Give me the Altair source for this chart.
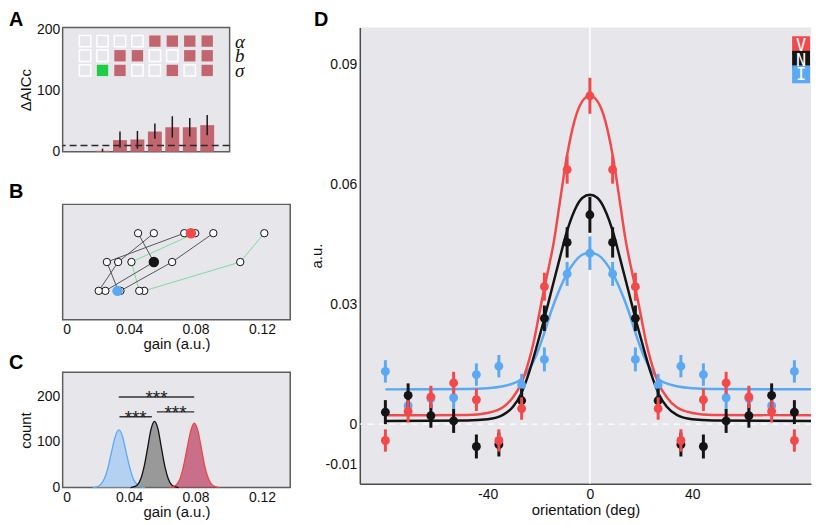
import altair as alt
import pandas as pd

FONT = "Liberation Sans"
BG = "#e7e7eb"
FRAME = "#5e5e5e"
RED = "#f24a4a"
BLACK = "#141414"
BLUE = "#5aa9f2"
BAR = "#c1666e"
GREEN = "#1fcc45"
LGREEN = "#7fd99c"
GRAYLINE = "#555555"

# ---------------- Panel A data ----------------
a_models = [1, 2, 3, 4, 5, 6, 7, 8]
a_dAICc = [0, 1.5, 19, 20, 33, 40, 40, 43.5]
a_err_lo = [0, 0, 7, 5, 21, 23, 25, 27]
a_err_hi = [0, 5, 33, 34, 46, 58, 55, 60]
a_threshold = [10]
a_params = ["α", "b", "σ"]
a_param_y = [181, 157, 133]
a_row_alpha = ["off", "off", "off", "off", "on", "on", "on", "on"]
a_row_b = ["off", "off", "on", "on", "off", "off", "on", "on"]
a_row_sigma = ["off", "best", "on", "off", "off", "on", "off", "on"]

# ---------------- Panel B data ----------------
b_subjects = ["s1", "s2", "s3", "s4", "s5", "s6"]
b_group = ["green", "green", "gray", "gray", "gray", "gray"]
b_gain_I = [0.0491, 0.0461, 0.0348, 0.0257, 0.0217, 0.0335]
b_gain_N = [0.1069, 0.0414, 0.0659, 0.0549, 0.0334, 0.0266]
b_gain_V = [0.1214, 0.0798, 0.0907, 0.0454, 0.0549, 0.0732]
b_conds = ["I", "N", "V"]
b_levels = [1, 2, 3]
b_mean = [0.0330, 0.0549, 0.0772]

# ---------------- Panel C data ----------------
c_x_I = [0.0181, 0.0203, 0.0226, 0.0248, 0.0271, 0.0293, 0.0316, 0.0338,
         0.0361, 0.0383, 0.0406, 0.0428, 0.0451, 0.0473, 0.0496]
c_y_I = [0, 1, 6, 17, 41, 76, 111, 126, 111, 76, 41, 17, 6, 1, 0]
c_x_N = [0.0409, 0.0430, 0.0450, 0.0471, 0.0491, 0.0512, 0.0532, 0.0553,
         0.0574, 0.0594, 0.0615, 0.0635, 0.0656, 0.0676, 0.0697]
c_y_N = [0, 2, 6, 20, 47, 88, 128, 145, 128, 88, 47, 20, 6, 2, 0]
c_x_V = [0.0641, 0.0663, 0.0684, 0.0706, 0.0727, 0.0749, 0.0771, 0.0792,
         0.0814, 0.0835, 0.0856, 0.0878, 0.0900, 0.0921, 0.0943]
c_y_V = [0, 2, 6, 19, 46, 86, 124, 141, 124, 86, 46, 19, 6, 2, 0]
c_sig_x1 = [0.0338, 0.0342, 0.0567]
c_sig_x2 = [0.0792, 0.0537, 0.0792]
c_sig_y = [198, 155, 165.6]
c_sig_text = ["***", "***", "***"]

# ---------------- Panel D data ----------------
d_orient = [-80, -71.1, -62.2, -53.3, -44.4, -35.6, -26.7, -17.8, -8.9, 0,
            8.9, 17.8, 26.7, 35.6, 44.4, 53.3, 62.2, 71.1, 80]
d_V = [-0.0041, 0.0032, 0.0068, 0.0103, 0.0061, -0.0041, 0.0039, 0.0344, 0.0637, 0.0822,
       0.0637, 0.0344, 0.0039, -0.0041, 0.0061, 0.0103, 0.0068, 0.0032, -0.0041]
d_V_err = [0.0028, 0.0028, 0.0028, 0.0028, 0.0028, 0.0028, 0.0028, 0.0035, 0.0035, 0.0045,
           0.0035, 0.0035, 0.0028, 0.0028, 0.0028, 0.0028, 0.0028, 0.0028, 0.0028]
d_N = [0.0030, 0.0072, 0.0021, 0.0008, -0.0056, -0.0051, 0.0059, 0.0265, 0.0455, 0.0524,
       0.0455, 0.0265, 0.0059, -0.0051, -0.0056, 0.0008, 0.0021, 0.0072, 0.0030]
d_N_err = [0.0030, 0.0030, 0.0030, 0.0030, 0.0030, 0.0030, 0.0030, 0.0032, 0.0038, 0.0045,
           0.0038, 0.0032, 0.0030, 0.0030, 0.0030, 0.0030, 0.0030, 0.0030, 0.0030]
d_I = [0.0132, 0.0046, 0.0064, 0.0066, 0.0124, 0.0145, 0.0098, 0.0162, 0.0376, 0.0428,
       0.0376, 0.0162, 0.0098, 0.0145, 0.0124, 0.0066, 0.0064, 0.0046, 0.0132]
d_I_err = [0.0028, 0.0028, 0.0028, 0.0028, 0.0028, 0.0028, 0.0028, 0.0030, 0.0030, 0.0042,
           0.0030, 0.0030, 0.0028, 0.0028, 0.0028, 0.0028, 0.0028, 0.0028, 0.0028]
d_fit_x_V = [-80, -48, -40, -34, -30, -27, -24, -22, -20, -18, -16, -14, -12, -9, -6, -3, 0,
             3, 6, 9, 12, 14, 16, 18, 20, 22, 24, 27, 30, 34, 40, 48, 88]
d_fit_V = [0.0022, 0.0023, 0.0028, 0.0042, 0.0068, 0.0100, 0.0155, 0.0205, 0.0270, 0.0335,
           0.0395, 0.0460, 0.0545, 0.0670, 0.0760, 0.0808, 0.0822,
           0.0808, 0.0760, 0.0670, 0.0545, 0.0460, 0.0395, 0.0335, 0.0270, 0.0205,
           0.0155, 0.0100, 0.0068, 0.0042, 0.0028, 0.0023, 0.0022]
d_fit_x_N = [-80, -48, -40, -34, -30, -27, -24, -21, -18, -15, -12, -9, -6, -3, 0,
             3, 6, 9, 12, 15, 18, 21, 24, 27, 30, 34, 40, 48, 88]
d_fit_N = [0.0008, 0.0009, 0.0012, 0.0023, 0.0044, 0.0075, 0.0125, 0.0190, 0.0260, 0.0335,
           0.0410, 0.0482, 0.0535, 0.0566, 0.0574,
           0.0566, 0.0535, 0.0482, 0.0410, 0.0335, 0.0260, 0.0190, 0.0125, 0.0075, 0.0044,
           0.0023, 0.0012, 0.0009, 0.0008]
d_fit_x_I = [-80, -48, -40, -34, -30, -27, -24, -21, -18, -15, -12, -9, -6, -3, 0,
             3, 6, 9, 12, 15, 18, 21, 24, 27, 30, 34, 40, 48, 88]
d_fit_I = [0.0087, 0.0088, 0.0090, 0.0095, 0.0102, 0.0112, 0.0135, 0.0172, 0.0225, 0.0285,
           0.0335, 0.0376, 0.0406, 0.0424, 0.0429,
           0.0424, 0.0406, 0.0376, 0.0335, 0.0285, 0.0225, 0.0172, 0.0135, 0.0112, 0.0102,
           0.0095, 0.0090, 0.0088, 0.0087]
d_series = ["V", "N", "I"]
d_colors = [RED, BLACK, BLUE]


def letter(t, dx, dy):
    """Panel letter placed just above the top-left corner of the panel."""
    return alt.Chart(pd.DataFrame({"t": [t]})).mark_text(
        align="left", baseline="alphabetic", fontSize=20, fontWeight="bold", font=FONT,
        color="#000000").encode(x=alt.value(dx), y=alt.value(dy), text="t:N")


def view(stroke=FRAME, width=1.5):
    return alt.ViewBackground(fill=BG, stroke=stroke, strokeWidth=width)


gain_label = "datum.value == 0 ? '0' : format(datum.value, '.2f')"

# ================= Panel A =================
dfA = pd.DataFrame({"model": a_models, "d": a_dAICc, "lo": a_err_lo, "hi": a_err_hi})
xA = alt.X("model:Q", scale=alt.Scale(domain=[0, 9], nice=False, zero=False), axis=None)
axA = alt.Axis(values=[0, 100, 200], title="ΔAICc", titlePadding=3, labelPadding=3)
scA = alt.Scale(domain=[0, 203.3], nice=False)
barsA = alt.Chart(dfA).mark_bar(size=14, color=BAR).encode(
    x=xA, y=alt.Y("d:Q", scale=scA, axis=axA))
errA = alt.Chart(dfA[dfA.hi > 0]).mark_rule(color="#1a1a1a", strokeWidth=1.5).encode(
    x=xA, y=alt.Y("lo:Q", scale=scA, axis=axA), y2="hi:Q")
thrA = alt.Chart(pd.DataFrame({"d": a_threshold})).mark_rule(
    color="#2a2a2a", strokeWidth=1.5, strokeDash=[7, 4]).encode(
    y=alt.Y("d:Q", scale=scA, axis=axA))

sq_rows = []
for pname, py, states in zip(a_params, a_param_y, [a_row_alpha, a_row_b, a_row_sigma]):
    for m, s in zip(a_models, states):
        sq_rows.append({"model": m, "py": py, "param": pname, "state": s})
dfSq = pd.DataFrame(sq_rows)
param_expr = " : ".join(f"datum.value == {py} ? '{p}'" for p, py in zip(a_params, a_param_y)) + " : ''"
squaresA = alt.Chart(dfSq).mark_square(size=130, strokeWidth=1.5, opacity=1).encode(
    x=xA,
    y=alt.Y("py:Q", scale=alt.Scale(domain=[0, 203.3], nice=False),
            axis=alt.Axis(orient="right", values=a_param_y, labelExpr=param_expr, title=None,
                          labelFont="Liberation Serif", labelFontStyle="italic",
                          labelFontSize=19, labelPadding=5, labelColor="#111",
                          labelOverlap=False, labelBound=False, labelFlush=False)),
    fill=alt.Fill("state:N", scale=alt.Scale(domain=["off", "on", "best"],
                                             range=["transparent", BAR, GREEN]), legend=None),
    stroke=alt.Stroke("state:N", scale=alt.Scale(domain=["off", "on", "best"],
                                                 range=["#ffffff", "transparent", "transparent"]),
                      legend=None),
)
A = alt.layer(alt.layer(barsA, errA, thrA, letter("A", -54, -1)), squaresA).resolve_scale(
    y="independent").properties(width=168, height=125, view=view())

# ================= Panel B =================
rowsB = []
for s, g, gi, gn, gv in zip(b_subjects, b_group, b_gain_I, b_gain_N, b_gain_V):
    for c, lv, val in zip(b_conds, b_levels, [gi, gn, gv]):
        rowsB.append({"subject": s, "group": g, "cond": c, "level": lv, "gain": val})
dfB = pd.DataFrame(rowsB)
dfBm = pd.DataFrame({"cond": b_conds, "level": b_levels, "gain": b_mean})
xB = alt.X("gain:Q", scale=alt.Scale(domain=[0, 0.137], nice=False, zero=False),
           axis=alt.Axis(values=[0, 0.04, 0.08, 0.12], labelExpr=gain_label,
                         title="gain (a.u.)", labelPadding=3, titlePadding=0))
yB = alt.Y("level:Q", scale=alt.Scale(domain=[0, 4], nice=False), axis=None)
linesB = alt.Chart(dfB).mark_line(strokeWidth=1).encode(
    x=xB, y=yB, detail="subject:N", order="level:Q",
    stroke=alt.Stroke("group:N", scale=alt.Scale(domain=["green", "gray"], range=[LGREEN, GRAYLINE]),
                      legend=None))
openB = alt.Chart(dfB).mark_circle(size=55, fill="white", stroke="#111111", strokeWidth=1,
                                   opacity=1).encode(x=xB, y=yB)
meanB = alt.Chart(dfBm).mark_circle(size=110, opacity=1).encode(
    x=xB, y=yB,
    fill=alt.Fill("cond:N", scale=alt.Scale(domain=["V", "N", "I"], range=[RED, BLACK, BLUE]),
                  legend=None))
B = alt.layer(linesB, openB, meanB, letter("B", -54, -6)).properties(
    width=229, height=116, view=view())

# ================= Panel C =================
rowsC = []
for c, xs, ys in [("I", c_x_I, c_y_I), ("N", c_x_N, c_y_N), ("V", c_x_V, c_y_V)]:
    for xv, yv in zip(xs, ys):
        rowsC.append({"cond": c, "gain": xv, "count": yv})
dfC = pd.DataFrame(rowsC)
xC = alt.X("gain:Q", scale=alt.Scale(domain=[0, 0.137], nice=False, zero=False),
           axis=alt.Axis(values=[0, 0.04, 0.08, 0.12], labelExpr=gain_label,
                         title="gain (a.u.)", labelPadding=3, titlePadding=0))
scC = alt.Scale(domain=[0, 252], nice=False)
yC = alt.Y("count:Q", scale=scC, stack=None,
           axis=alt.Axis(values=[0, 100, 200], title="count", titlePadding=3, labelPadding=3))
areaC = alt.Chart(dfC).mark_area(interpolate="monotone", fillOpacity=0.7).encode(
    x=xC, y=yC,
    fill=alt.Fill("cond:N", scale=alt.Scale(domain=["I", "N", "V"],
                                            range=["#9fc7f5", "#787878", "#bc3c60"]), legend=None))
lineC = alt.Chart(dfC).mark_line(interpolate="monotone", strokeWidth=1.3).encode(
    x=xC, y=yC,
    stroke=alt.Stroke("cond:N", scale=alt.Scale(domain=["I", "N", "V"],
                                                range=["#5aa8f5", "#111111", "#f04444"]), legend=None))
dfSig = pd.DataFrame({"x1": c_sig_x1, "x2": c_sig_x2, "count": c_sig_y, "txt": c_sig_text})
sigRule = alt.Chart(dfSig).mark_rule(color="#333333", strokeWidth=1.4).encode(
    x=alt.X("x1:Q", scale=alt.Scale(domain=[0, 0.137], nice=False, zero=False)),
    x2="x2:Q", y=alt.Y("count:Q", scale=scC))
sigText = alt.Chart(dfSig).transform_calculate(mid="(datum.x1 + datum.x2) / 2").mark_text(
    fontSize=19, font=FONT, baseline="alphabetic", dy=7, color="#222222").encode(
    x=alt.X("mid:Q", scale=alt.Scale(domain=[0, 0.137], nice=False, zero=False)),
    y=alt.Y("count:Q", scale=scC), text="txt:N")
C = alt.layer(areaC, lineC, sigRule, sigText, letter("C", -54, -3)).properties(
    width=229, height=116, view=view())

# ================= Panel D =================
rowsD = []
for s, vals, errs in [("I", d_I, d_I_err), ("N", d_N, d_N_err), ("V", d_V, d_V_err)]:
    for xv, yv, ev in zip(d_orient, vals, errs):
        rowsD.append({"s": s, "o": xv, "v": yv, "lo": yv - ev, "hi": yv + ev})
dfD = pd.DataFrame(rowsD)
rowsF = []
for s, xs, ys in [("I", d_fit_x_I, d_fit_I), ("N", d_fit_x_N, d_fit_N), ("V", d_fit_x_V, d_fit_V)]:
    for xv, yv in zip(xs, ys):
        rowsF.append({"s": s, "o": xv, "v": yv})
dfF = pd.DataFrame(rowsF)

xscD = alt.Scale(domain=[-90, 86.5], nice=False, zero=False)
yscD = alt.Scale(domain=[-0.0149, 0.0993], nice=False, zero=False)
axXD = alt.Axis(values=[-40, 0, 40], title="orientation (deg)", domain=True, domainColor="#4a4a4a",
                domainWidth=1.5, labelPadding=4, titlePadding=1, labelFontSize=14,
                labelExpr="datum.value < 0 ? '-' + format(-datum.value, 'd') : format(datum.value, 'd')")
axYD = alt.Axis(values=[-0.01, 0, 0.03, 0.06, 0.09], title="a.u.", domain=True, domainColor="#4a4a4a",
                domainWidth=1.5, labelPadding=3, titlePadding=1, labelFontSize=14,
                labelExpr="datum.value == 0 ? '0' : (datum.value < 0 ? '-' + format(-datum.value, '.2f') : format(datum.value, '.2f'))")
xD = alt.X("o:Q", scale=xscD, axis=axXD)
yD = alt.Y("v:Q", scale=yscD, axis=axYD)
strokeD = alt.Stroke("s:N", scale=alt.Scale(domain=d_series, range=d_colors), legend=None)
fillD = alt.Fill("s:N", scale=alt.Scale(domain=d_series, range=d_colors), legend=None)

zeroV = alt.Chart(pd.DataFrame({"o": [0]})).mark_rule(color="white", strokeWidth=1.5).encode(x=xD)
zeroH = alt.Chart(pd.DataFrame({"v": [0]})).mark_rule(color="white", strokeWidth=1.5,
                                                      strokeDash=[6, 5]).encode(y=yD)
curvesD = alt.Chart(dfF).mark_line(interpolate="monotone", strokeWidth=2.5, clip=True).encode(
    x=xD, y=yD, stroke=strokeD)
layersD = [zeroV, zeroH, curvesD]
for s in ["I", "N", "V"]:
    sub = dfD[dfD.s == s]
    layersD.append(alt.Chart(sub).mark_rule(strokeWidth=3).encode(
        x=xD, y=alt.Y("lo:Q", scale=yscD, axis=axYD), y2="hi:Q", stroke=strokeD))
    layersD.append(alt.Chart(sub).mark_circle(size=80, opacity=1).encode(
        x=xD, y=yD, fill=fillD))
layersD.append(letter("D", -46, -1))

# legend boxes (V / N / I) in the top-right corner
dfLeg = pd.DataFrame({"s": d_series})
legY = alt.Y("s:N", scale=alt.Scale(domain=d_series, range=[10.5, 54.5]), axis=None)
legBox = alt.Chart(dfLeg).mark_square(size=324, opacity=1).encode(
    x=alt.value(444), y=legY, fill=fillD)
legTxt = alt.Chart(dfLeg).mark_text(color="white", font="DejaVu Sans Mono", fontSize=17,
                                    baseline="middle", align="center", dy=1).encode(
    x=alt.value(444), y=legY, text="s:N")
legend = alt.layer(legBox, legTxt)

D = alt.layer(alt.layer(*layersD), legend).resolve_scale(y="independent").properties(
    width=454, height=459, view=view("transparent", 0))

left = alt.vconcat(A, alt.vconcat(B, C, spacing=0).resolve_scale(
    fill="independent", stroke="independent"), spacing=22).resolve_scale(
    fill="independent", stroke="independent")
chart = alt.hconcat(left, D, spacing=18).resolve_scale(
    fill="independent", stroke="independent").properties(padding=0).configure(
    font=FONT).configure_axis(
    labelFont=FONT, titleFont=FONT, labelFontSize=14, titleFontSize=15, titleFontWeight="normal",
    ticks=False, grid=False, domain=False, labelColor="#111111", titleColor="#111111")

chart.save("out.html", embed_options={"renderer": "svg", "actions": False})
